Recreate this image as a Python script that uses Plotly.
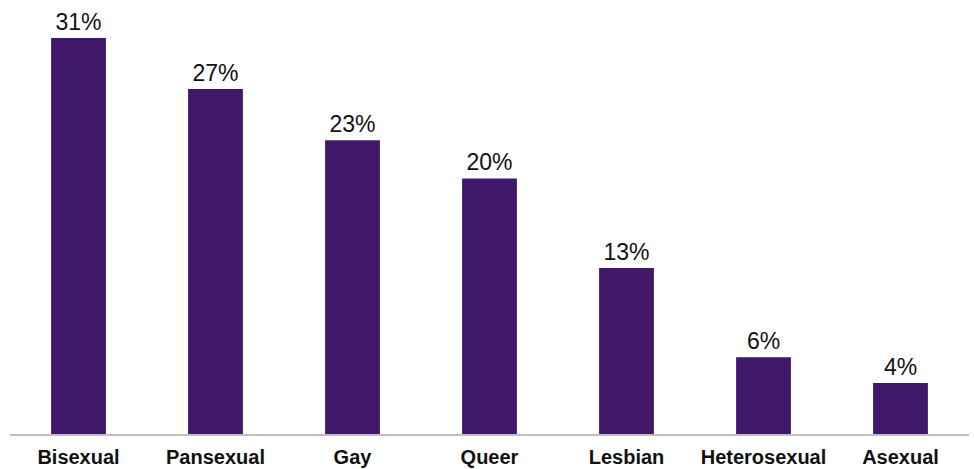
import plotly.graph_objects as go

categories = ["Bisexual", "Pansexual", "Gay", "Queer", "Lesbian", "Heterosexual", "Asexual"]
values = [31, 27, 23, 20, 13, 6, 4]
labels = ["31%", "27%", "23%", "20%", "13%", "6%", "4%"]

fig = go.Figure(go.Bar(
    x=categories, y=values, text=labels, textposition="outside",
    marker=dict(color="#41176a", line=dict(width=0)),
    textfont=dict(family="Liberation Sans, Arial", size=23, color="#111111"),
    cliponaxis=False,
))
fig.update_layout(
    width=974, height=469,
    margin=dict(l=10, r=5, t=0, b=35),
    paper_bgcolor="white", plot_bgcolor="white",
    bargap=0.6, showlegend=False,
    xaxis=dict(showline=True, linecolor="#bfbfbf", linewidth=1.5, ticks="",
               ticklabelstandoff=4,
               tickfont=dict(family="Liberation Sans, Arial", size=20, color="#111111", weight="bold")),
    yaxis=dict(range=[0, 33.97], visible=False, showgrid=False),
)
fig.write_html("out.html")
